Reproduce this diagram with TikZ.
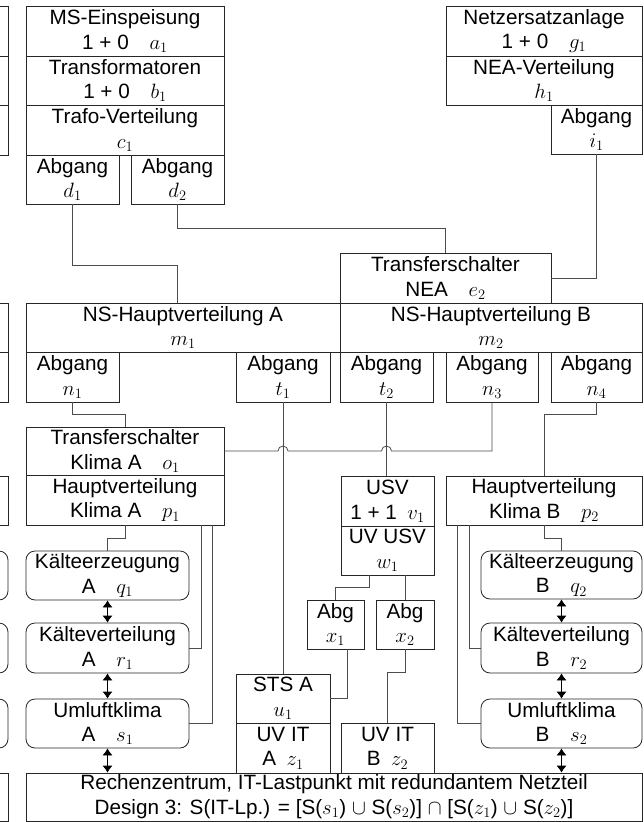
\documentclass[tikz,border=0pt]{standalone}
\usepackage{fontspec}
\setmainfont{Liberation Sans}
\usetikzlibrary{arrows.meta,calc}
\begin{document}
\begin{tikzpicture}[x=1pt,y=1pt,
  box/.style={draw=black!85, line width=0.8pt, inner sep=0pt, align=center, font=\fontsize{20.7}{24.8}\selectfont},
  rbox/.style={box, rounded corners=9pt},
  wire/.style={draw=black!70, line width=0.8pt},
  dbl/.style={draw=black, line width=0.8pt, {Latex[length=7pt,width=10pt]}-{Latex[length=7pt,width=10pt]}},
  sliver/.style={draw=black!85, line width=0.8pt}]
\useasboundingbox (0,0) rectangle (643,-822);
\clip (0,0) rectangle (643,-822);
\fill[white] (0,0) rectangle (643,-822);
% partial boxes of the neighbouring column
\draw[sliver] (-30,-6) rectangle (8,-56);
\draw[sliver] (-30,-56) rectangle (8,-105);
\draw[sliver] (-30,-105) rectangle (8,-155);
\draw[sliver] (-30,-303) rectangle (8,-352);
\draw[sliver] (-30,-352) rectangle (8,-402);
\draw[sliver] (-30,-476) rectangle (8,-525);
\draw[sliver, rounded corners=9pt] (-30,-551) rectangle (8,-600);
\draw[sliver, rounded corners=9pt] (-30,-623) rectangle (8,-673);
\draw[sliver, rounded corners=9pt] (-30,-699) rectangle (8,-748);
\draw[sliver] (-30,-773) rectangle (8,-821);
% nodes
\node[box, minimum width=198, minimum height=50] (a1) at (125,-31) {MS-Einspeisung\\1 + 0\quad $a_1$};
\node[box, minimum width=198, minimum height=49] (b1) at (125,-80.5) {Transformatoren\\1 + 0\quad $b_1$};
\node[box, minimum width=198, minimum height=50] (c1) at (125,-130) {Trafo-Verteilung\\$c_1$};
\node[box, minimum width=93, minimum height=49] (d1) at (72.5,-179.5) {Abgang\\$d_1$};
\node[box, minimum width=93, minimum height=49] (d2) at (177.5,-179.5) {Abgang\\$d_2$};
\node[box, minimum width=196, minimum height=50] (g1) at (544,-31) {Netzersatzanlage\\1 + 0\quad $g_1$};
\node[box, minimum width=196, minimum height=49] (h1) at (544,-80.5) {NEA-Verteilung\\$h_1$};
\node[box, minimum width=91, minimum height=49] (i1) at (596.5,-129.5) {Abgang\\$i_1$};
\node[box, minimum width=211, minimum height=50] (e2) at (445.5,-278) {Transferschalter\\NEA\quad $e_2$};
\node[box, minimum width=314, minimum height=49] (m1) at (183,-327.5) {NS-Hauptverteilung A\\$m_1$};
\node[box, minimum width=302, minimum height=49] (m2) at (491,-327.5) {NS-Hauptverteilung B\\$m_2$};
\node[box, minimum width=93, minimum height=50] (n1) at (72.5,-377) {Abgang\\$n_1$};
\node[box, minimum width=94, minimum height=50] (t1) at (283,-377) {Abgang\\$t_1$};
\node[box, minimum width=93, minimum height=50] (t2) at (386.5,-377) {Abgang\\$t_2$};
\node[box, minimum width=92, minimum height=50] (n3) at (492,-377) {Abgang\\$n_3$};
\node[box, minimum width=91, minimum height=50] (n4) at (596.5,-377) {Abgang\\$n_4$};
\node[box, minimum width=198, minimum height=48] (o1) at (125,-451) {Transferschalter\\Klima A\quad $o_1$};
\node[box, minimum width=198, minimum height=50] (p1) at (125,-500) {Hauptverteilung\\Klima A\quad $p_1$};
\node[box, minimum width=93, minimum height=50] (v1) at (387.5,-501) {USV\\1 + 1\enspace $v_1$};
\node[box, minimum width=93, minimum height=49] (w1) at (387.5,-550.5) {UV USV\\$w_1$};
\node[box, minimum width=196, minimum height=49] (p2) at (544,-500.5) {Hauptverteilung\\Klima B\quad $p_2$};
\node[rbox, minimum width=163, minimum height=49] (q1) at (107.5,-575.5) {Kälteerzeugung\\A\quad $q_1$};
\node[rbox, minimum width=163, minimum height=50] (r1) at (107.5,-648) {Kälteverteilung\\A\quad $r_1$};
\node[rbox, minimum width=163, minimum height=49] (s1) at (107.5,-723.5) {Umluftklima\\A\quad $s_1$};
\node[box, minimum width=57, minimum height=49] (x1) at (335.5,-624.5) {Abg\\$x_1$};
\node[box, minimum width=58, minimum height=49] (x2) at (405,-624.5) {Abg\\$x_2$};
\node[box, minimum width=94, minimum height=49] (u1) at (283,-698.5) {STS A\\$u_1$};
\node[box, minimum width=94, minimum height=50] (z1) at (283,-748) {UV IT\\A\enspace $z_1$};
\node[box, minimum width=93, minimum height=50] (z2) at (387.5,-748) {UV IT\\B\enspace $z_2$};
\node[rbox, minimum width=161, minimum height=48] (q2) at (561.5,-575) {Kälteerzeugung\\B\quad $q_2$};
\node[rbox, minimum width=161, minimum height=50] (r2) at (561.5,-648) {Kälteverteilung\\B\quad $r_2$};
\node[rbox, minimum width=161, minimum height=49] (s2) at (561.5,-723.5) {Umluftklima\\B\quad $s_2$};
\node[box, minimum width=616, minimum height=48] (rz) at (334,-797) {Rechenzentrum, IT-Lastpunkt mit redundantem Netzteil\\Design 3: S(IT-Lp.) = [S($s_1$) $\cup$ S($s_2$)] $\cap$ [S($z_1$) $\cup$ S($z_2$)]};
% connectors
\draw[wire] (d1.south) -- ++(0,-61) -| ([xshift=-6pt]m1.north);
\draw[wire] (d2.south) -- ++(0,-24) -| (e2.north);
\draw[wire] (i1.south) |- (e2.east);
\draw[wire] (n1.south) -- ++(0,-12) -| (o1.north);
\draw[wire] (n3.south) |- ($(t2.south |- o1.east)+(5,0)$) arc[start angle=0,end angle=180,radius=5] -- ($(t1.south |- o1.east)+(5,0)$) arc[start angle=0,end angle=180,radius=5] -- (o1.east);
\draw[wire] (t1.south) -- (u1.north);
\draw[wire] (t2.south) -- (t2.south |- v1.north);
\draw[wire] (n4.south) -- ++(0,-12) -| (p2.north);
\draw[wire] ([xshift=-18.5pt]w1.south) -- ++(0,-12) -| (x1.north);
\draw[wire] (x2.north |- w1.south) -- (x2.north);
\draw[wire] ([xshift=11.5pt]x1.south) |- (u1.east);
\draw[wire] (x2.south) -- ++(0,-23) -| (z2.north);
\draw[wire] (p1.south) -- ++(0,-13) -| (q1.north);
\draw[wire] ([xshift=76pt]p1.south) |- (r1.east);
\draw[wire] ([xshift=87pt]p1.south) |- (s1.east);
\draw[wire] (p2.south) -- ++(0,-13) -| (q2.north);
\draw[wire] ([xshift=-75pt]p2.south) |- (r2.west);
\draw[wire] ([xshift=-87pt]p2.south) |- (s2.west);
\draw[dbl] (q1.south) -- (r1.north);
\draw[dbl] (r1.south) -- (s1.north);
\draw[dbl] (s1.south) -- (s1.south |- rz.north);
\draw[dbl] (q2.south) -- (r2.north);
\draw[dbl] (r2.south) -- (s2.north);
\draw[dbl] (s2.south) -- (s2.south |- rz.north);
\end{tikzpicture}
\end{document}
